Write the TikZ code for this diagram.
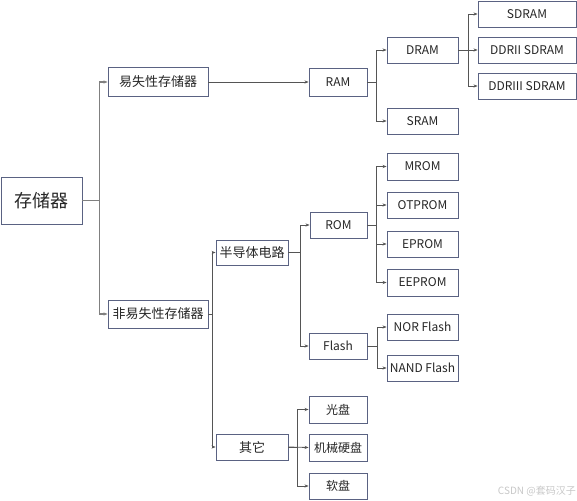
\documentclass[tikz,border=0pt]{standalone}
\usepackage{fontspec}
\setmainfont{Noto Sans CJK SC}
\usetikzlibrary{arrows.meta}
\definecolor{boxline}{HTML}{5A6282}
\definecolor{conline}{HTML}{555555}
\tikzset{
  box/.style={draw=boxline, line width=0.9pt, fill=white, inner sep=0pt,
    font=\fontsize{12}{14}\selectfont, text=black!85},
  w/.style={minimum width=#1pt},
  h/.style={minimum height=#1pt},
  conn/.style={draw=conline, line width=0.8pt, -{Stealth[length=4pt,width=3.2pt]}},
  trunk/.style={draw=gray!80, line width=1.3pt, -{Stealth[length=4pt,width=3.2pt]}, color=gray}
}
\begin{document}
\begin{tikzpicture}[x=1pt,y=-1pt]
\useasboundingbox (0,0) rectangle (577,500);
% level 0
\node[box,w=81,h=47,font=\fontsize{18}{20}\selectfont] (root) at (41.5,200.5) {存储器};
% level 1
\node[box,w=100,h=29,font=\fontsize{13}{15}\selectfont] (vol) at (158,82) {易失性存储器};
\node[box,w=100,h=28,font=\fontsize{13}{15}\selectfont] (nvol) at (158,314) {非易失性存储器};
% RAM branch
\node[box,w=58,h=28] (ram) at (338,82) {RAM};
\node[box,w=71,h=26] (dram) at (422.5,50) {DRAM};
\node[box,w=71,h=26] (sram) at (422.5,121) {SRAM};
\node[box,w=98,h=26] (sdram) at (527,14) {SDRAM};
\node[box,w=98,h=26] (ddr2) at (527,50) {DDRII SDRAM};
\node[box,w=98,h=26] (ddr3) at (527,86) {DDRIII SDRAM};
% non-volatile
\node[box,w=72,h=25,font=\fontsize{13}{15}\selectfont] (semi) at (252,252.5) {半导体电路};
\node[box,w=72,h=26,font=\fontsize{13}{15}\selectfont] (other) at (252,447) {其它};
\node[box,w=57,h=26] (rom) at (338.5,225) {ROM};
\node[box,w=58,h=26] (flash) at (338,346) {Flash};
\node[box,w=71,h=27] (mrom) at (422.5,166.5) {MROM};
\node[box,w=71,h=26] (otprom) at (422.5,205) {OTPROM};
\node[box,w=71,h=26] (eprom) at (422.5,244) {EPROM};
\node[box,w=71,h=27] (eeprom) at (422.5,282.5) {EEPROM};
\node[box,w=71,h=26] (nor) at (422.5,327) {NOR Flash};
\node[box,w=71,h=26] (nand) at (422.5,368) {NAND Flash};
\node[box,w=58,h=27,font=\fontsize{12}{14}\selectfont] (cd) at (338,409.5) {光盘};
\node[box,w=58,h=27,font=\fontsize{12}{14}\selectfont] (hdd) at (338,447.5) {机械硬盘};
\node[box,w=58,h=26,font=\fontsize{12}{14}\selectfont] (fd) at (338,486) {软盘};
% watermark
\node[anchor=east, inner sep=0pt, text=black!22, font=\fontsize{10}{12}\selectfont] (wm) at (576,491) {CSDN @套码汉子};
% connectors
\draw[trunk] (root.east) -- ++(17,0) |- (vol.west);
\draw[trunk] (root.east) -- ++(17,0) |- (nvol.west);
\draw[conn] (vol.east) -- (ram.west);
\draw[conn] (ram.east) -- ++(9,0) |- (dram.west);
\draw[conn] (ram.east) -- ++(9,0) |- (sram.west);
\draw[conn] (dram.east) -- ++(10,0) |- (sdram.west);
\draw[conn] (dram.east) -- (ddr2.west);
\draw[conn] (dram.east) -- ++(10,0) |- (ddr3.west);
\draw[conn] (nvol.east) -- ++(4,0) |- (semi.west);
\draw[conn] (nvol.east) -- ++(4,0) |- (other.west);
\draw[conn] (semi.east) -- ++(12,0) |- (rom.west);
\draw[conn] (semi.east) -- ++(12,0) |- (flash.west);
\draw[conn] (rom.east) -- ++(9,0) |- (mrom.west);
\draw[conn] (rom.east) -- ++(9,0) |- (otprom.west);
\draw[conn] (rom.east) -- ++(9,0) |- (eprom.west);
\draw[conn] (rom.east) -- ++(9,0) |- (eeprom.west);
\draw[conn] (flash.east) -- ++(10,0) |- (nor.west);
\draw[conn] (flash.east) -- ++(10,0) |- (nand.west);
\draw[conn] (other.east) -- ++(9,0) |- (cd.west);
\draw[conn] (other.east) -- (hdd.west);
\draw[conn] (other.east) -- ++(9,0) |- (fd.west);
\end{tikzpicture}
\end{document}
